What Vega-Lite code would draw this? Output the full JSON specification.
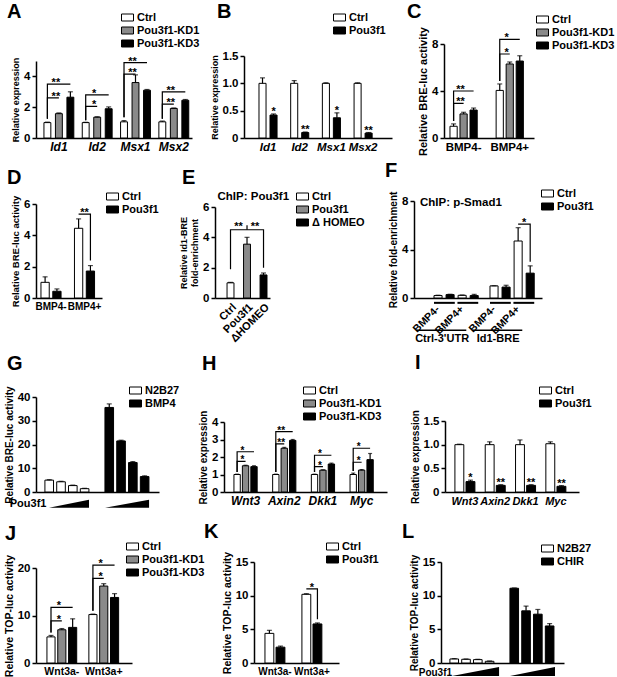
{
"$schema": "https://vega.github.io/schema/vega-lite/v6.json",
"padding": {"left": 4, "right": 0, "top": 2, "bottom": 0},
"background": "white",
"config": {
  "font": "Liberation Sans",
  "view": {"stroke": null},
  "axis": {"labelFont": "Liberation Sans", "titleFont": "Liberation Sans", "labelFontWeight": "bold", "titleFontWeight": "bold", "labelColor": "black", "titleColor": "black", "domainColor": "black", "tickColor": "black", "domainWidth": 1.5, "tickWidth": 1.5, "grid": false, "labelFontSize": 11.5},
  "axisY": {"tickSize": 4, "labelPadding": 2, "titlePadding": 3, "titleFontSize": 10},
  "axisX": {"ticks": false, "labelPadding": 3, "labelAngle": 0},
  "legend": {"labelFont": "Liberation Sans", "labelFontWeight": "bold", "labelFontSize": 11, "labelColor": "black", "rowPadding": 1, "padding": 0, "labelOffset": 4, "orient": "none"},
  "title": {"font": "Liberation Sans", "fontSize": 20, "fontWeight": "bold", "anchor": "start", "frame": "group", "color": "black"},
  "text": {"color": "black", "font": "Liberation Sans", "fontWeight": "bold"}
},
"datasets": {
  "A": [{"c":"Id1","g":"Ctrl","v":1.0,"hi":1.03},{"c":"Id1","g":"Pou3f1-KD1","v":1.58,"hi":1.63},{"c":"Id1","g":"Pou3f1-KD3","v":2.65,"hi":3.0},
        {"c":"Id2","g":"Ctrl","v":1.0,"hi":1.02},{"c":"Id2","g":"Pou3f1-KD1","v":1.35,"hi":1.38},{"c":"Id2","g":"Pou3f1-KD3","v":1.9,"hi":2.02},
        {"c":"Msx1","g":"Ctrl","v":1.05,"hi":1.13},{"c":"Msx1","g":"Pou3f1-KD1","v":3.6,"hi":4.1},{"c":"Msx1","g":"Pou3f1-KD3","v":3.1,"hi":3.15},
        {"c":"Msx2","g":"Ctrl","v":1.05,"hi":1.1},{"c":"Msx2","g":"Pou3f1-KD1","v":1.92,"hi":1.95},{"c":"Msx2","g":"Pou3f1-KD3","v":2.45,"hi":2.5}],
  "A_br": [{"id":"a1","c":"Id1","g":"Ctrl","y":1.25,"o":1},{"id":"a1","c":"Id1","g":"Ctrl","y":2.6,"o":2},{"id":"a1","c":"Id1","g":"Pou3f1-KD1","y":2.6,"o":3},
           {"id":"a2","c":"Id1","g":"Ctrl","y":1.25,"o":1},{"id":"a2","c":"Id1","g":"Ctrl","y":3.5,"o":2},{"id":"a2","c":"Id1","g":"Pou3f1-KD3","y":3.5,"o":3},
           {"id":"a3","c":"Id2","g":"Ctrl","y":1.15,"o":1},{"id":"a3","c":"Id2","g":"Ctrl","y":2.05,"o":2},{"id":"a3","c":"Id2","g":"Pou3f1-KD1","y":2.05,"o":3},
           {"id":"a4","c":"Id2","g":"Ctrl","y":1.15,"o":1},{"id":"a4","c":"Id2","g":"Ctrl","y":2.8,"o":2},{"id":"a4","c":"Id2","g":"Pou3f1-KD3","y":2.8,"o":3},
           {"id":"a5","c":"Msx1","g":"Ctrl","y":1.35,"o":1},{"id":"a5","c":"Msx1","g":"Ctrl","y":4.15,"o":2},{"id":"a5","c":"Msx1","g":"Pou3f1-KD1","y":4.15,"o":3},
           {"id":"a6","c":"Msx1","g":"Ctrl","y":1.35,"o":1},{"id":"a6","c":"Msx1","g":"Ctrl","y":4.9,"o":2},{"id":"a6","c":"Msx1","g":"Pou3f1-KD3","y":4.9,"o":3},
           {"id":"a7","c":"Msx2","g":"Ctrl","y":1.25,"o":1},{"id":"a7","c":"Msx2","g":"Ctrl","y":2.2,"o":2},{"id":"a7","c":"Msx2","g":"Pou3f1-KD1","y":2.2,"o":3},
           {"id":"a8","c":"Msx2","g":"Ctrl","y":1.25,"o":1},{"id":"a8","c":"Msx2","g":"Ctrl","y":3.0,"o":2},{"id":"a8","c":"Msx2","g":"Pou3f1-KD3","y":3.0,"o":3}],
  "A_st": [{"c":"Id1","g":"Pou3f1-KD1","y":2.6,"t":"**"},{"c":"Id1","g":"Pou3f1-KD1","y":3.5,"t":"**"},{"c":"Id2","g":"Pou3f1-KD1","y":2.05,"t":"*"},{"c":"Id2","g":"Pou3f1-KD1","y":2.8,"t":"*"},
           {"c":"Msx1","g":"Pou3f1-KD1","y":4.15,"t":"**"},{"c":"Msx1","g":"Pou3f1-KD1","y":4.9,"t":"**"},{"c":"Msx2","g":"Pou3f1-KD1","y":2.2,"t":"**"},{"c":"Msx2","g":"Pou3f1-KD1","y":3.0,"t":"**"}],
  "B": [{"c":"Id1","g":"Ctrl","v":1.0,"hi":1.1},{"c":"Id1","g":"Pou3f1","v":0.42,"hi":0.44},
        {"c":"Id2","g":"Ctrl","v":1.0,"hi":1.05},{"c":"Id2","g":"Pou3f1","v":0.1,"hi":0.11},
        {"c":"Msx1","g":"Ctrl","v":1.0,"hi":1.01},{"c":"Msx1","g":"Pou3f1","v":0.37,"hi":0.46},
        {"c":"Msx2","g":"Ctrl","v":1.0,"hi":1.01},{"c":"Msx2","g":"Pou3f1","v":0.09,"hi":0.1}],
  "B_st": [{"c":"Id1","g":"Pou3f1","y":0.44,"t":"*"},{"c":"Id2","g":"Pou3f1","y":0.11,"t":"**"},{"c":"Msx1","g":"Pou3f1","y":0.46,"t":"*"},{"c":"Msx2","g":"Pou3f1","y":0.1,"t":"**"}],
  "C": [{"c":"BMP4-","g":"Ctrl","v":1.0,"hi":1.2},{"c":"BMP4-","g":"Pou3f1-KD1","v":2.05,"hi":2.19},{"c":"BMP4-","g":"Pou3f1-KD3","v":2.38,"hi":2.55},
        {"c":"BMP4+","g":"Ctrl","v":4.05,"hi":4.6},{"c":"BMP4+","g":"Pou3f1-KD1","v":6.3,"hi":6.47},{"c":"BMP4+","g":"Pou3f1-KD3","v":6.55,"hi":7.0}],
  "C_br": [{"id":"c1","c":"BMP4-","g":"Ctrl","y":1.45,"o":1},{"id":"c1","c":"BMP4-","g":"Ctrl","y":2.95,"o":2},{"id":"c1","c":"BMP4-","g":"Pou3f1-KD1","y":2.95,"o":3},
           {"id":"c2","c":"BMP4-","g":"Ctrl","y":1.45,"o":1},{"id":"c2","c":"BMP4-","g":"Ctrl","y":4.0,"o":2},{"id":"c2","c":"BMP4-","g":"Pou3f1-KD3","y":4.0,"o":3},
           {"id":"c3","c":"BMP4+","g":"Ctrl","y":4.85,"o":1},{"id":"c3","c":"BMP4+","g":"Ctrl","y":7.15,"o":2},{"id":"c3","c":"BMP4+","g":"Pou3f1-KD1","y":7.15,"o":3},
           {"id":"c4","c":"BMP4+","g":"Ctrl","y":4.85,"o":1},{"id":"c4","c":"BMP4+","g":"Ctrl","y":8.4,"o":2},{"id":"c4","c":"BMP4+","g":"Pou3f1-KD3","y":8.4,"o":3}],
  "C_st": [{"c":"BMP4-","g":"Pou3f1-KD1","y":2.95,"t":"**"},{"c":"BMP4-","g":"Pou3f1-KD1","y":4.0,"t":"**"},{"c":"BMP4+","g":"Pou3f1-KD1","y":7.15,"t":"*"},{"c":"BMP4+","g":"Pou3f1-KD1","y":8.4,"t":"*"}],
  "D": [{"c":"BMP4-","g":"Ctrl","v":1.0,"hi":1.35},{"c":"BMP4-","g":"Pou3f1","v":0.43,"hi":0.58},
        {"c":"BMP4+","g":"Ctrl","v":4.45,"hi":5.05},{"c":"BMP4+","g":"Pou3f1","v":1.72,"hi":2.07}],
  "D_br": [{"id":"d1","c":"BMP4+","g":"Ctrl","y":5.35,"o":1},{"id":"d1","c":"BMP4+","g":"Pou3f1","y":5.35,"o":2},{"id":"d1","c":"BMP4+","g":"Pou3f1","y":2.4,"o":3}],
  "D_st": [{"c":"BMP4+","g":"Ctrl","y":5.35,"t":"**"}],
  "E": [{"c":"Ctrl","v":1.0,"hi":1.03},{"c":"Pou3f1","v":3.55,"hi":4.0},{"c":"ΔHOMEO","v":1.52,"hi":1.65}],
  "E_br": [{"id":"e1","c":"Ctrl","y":1.9,"o":1},{"id":"e1","c":"Ctrl","y":4.5,"o":2},{"id":"e1","c":"ΔHOMEO","y":4.5,"o":3},{"id":"e1","c":"ΔHOMEO","y":2.0,"o":4},
           {"id":"e2","c":"Pou3f1","y":4.5,"o":1},{"id":"e2","c":"Pou3f1","y":4.8,"o":2}],
  "E_st": [{"c":"Ctrl","y":4.55,"t":"**"},{"c":"Pou3f1","y":4.55,"t":"**"}],
  "E_lab": [{"c":"Ctrl","y":6.65,"t":"ChIP: Pou3f1"}],
  "F": [{"c":"Ctrl-3'UTR","s":"BMP4-|Ctrl","g":"Ctrl","v":0.2,"hi":0.23},{"c":"Ctrl-3'UTR","s":"BMP4-|Pou3f1","g":"Pou3f1","v":0.28,"hi":0.31},
        {"c":"Ctrl-3'UTR","s":"BMP4+|Ctrl","g":"Ctrl","v":0.22,"hi":0.25},{"c":"Ctrl-3'UTR","s":"BMP4+|Pou3f1","g":"Pou3f1","v":0.2,"hi":0.3},
        {"c":"Id1-BRE","s":"BMP4-|Ctrl","g":"Ctrl","v":1.0,"hi":1.01},{"c":"Id1-BRE","s":"BMP4-|Pou3f1","g":"Pou3f1","v":0.9,"hi":1.05},
        {"c":"Id1-BRE","s":"BMP4+|Ctrl","g":"Ctrl","v":4.7,"hi":5.8},{"c":"Id1-BRE","s":"BMP4+|Pou3f1","g":"Pou3f1","v":2.05,"hi":2.65}],
  "F_br": [{"id":"f1","c":"Id1-BRE","s":"BMP4+|Ctrl","y":6.1,"o":1},{"id":"f1","c":"Id1-BRE","s":"BMP4+|Pou3f1","y":6.1,"o":2},{"id":"f1","c":"Id1-BRE","s":"BMP4+|Pou3f1","y":3.0,"o":3}],
  "F_st": [{"c":"Id1-BRE","s":"BMP4+|Ctrl","y":6.1,"t":"*"}],
  "F_lab": [{"c":"Ctrl-3'UTR","s":"BMP4-|Ctrl","y":7.8,"t":"ChIP: p-Smad1"}],
  "F_tl": [{"c":"Ctrl-3'UTR","s":"BMP4-|Ctrl","t":"BMP4-"},{"c":"Ctrl-3'UTR","s":"BMP4+|Ctrl","t":"BMP4+"},{"c":"Id1-BRE","s":"BMP4-|Ctrl","t":"BMP4-"},{"c":"Id1-BRE","s":"BMP4+|Ctrl","t":"BMP4+"}],
  "F_tu": [{"c":"Ctrl-3'UTR","p":"-"},{"c":"Ctrl-3'UTR","p":"+"},{"c":"Id1-BRE","p":"-"},{"c":"Id1-BRE","p":"+"}],
  "F_ru": [{"c":"Ctrl-3'UTR"},{"c":"Id1-BRE"}],
  "G": [{"c":"N2B27","d":"1","v":5.0,"hi":5.2},{"c":"N2B27","d":"2","v":4.3,"hi":4.5},{"c":"N2B27","d":"3","v":2.7,"hi":2.9},{"c":"N2B27","d":"4","v":1.4,"hi":1.55},
        {"c":"BMP4","d":"1","v":35.6,"hi":37.1},{"c":"BMP4","d":"2","v":21.5,"hi":21.8},{"c":"BMP4","d":"3","v":12.4,"hi":12.8},{"c":"BMP4","d":"4","v":6.5,"hi":6.8}],
  "G_w": [{"w":"a","p":0.106,"t":-6.6,"b":-6.6},{"w":"a","p":0.431,"t":-3.3,"b":-6.6},{"w":"b","p":0.561,"t":-6.6,"b":-6.6},{"w":"b","p":0.919,"t":-3.3,"b":-6.6}],
  "G_wl": [{"p":0.085,"t":-5.2,"s":"Pou3f1"}],
  "H": [{"c":"Wnt3","g":"Ctrl","v":1.0,"hi":1.02},{"c":"Wnt3","g":"Pou3f1-KD1","v":1.5,"hi":1.53},{"c":"Wnt3","g":"Pou3f1-KD3","v":1.45,"hi":1.5},
        {"c":"Axin2","g":"Ctrl","v":1.0,"hi":1.02},{"c":"Axin2","g":"Pou3f1-KD1","v":2.5,"hi":2.55},{"c":"Axin2","g":"Pou3f1-KD3","v":2.95,"hi":3.0},
        {"c":"Dkk1","g":"Ctrl","v":1.0,"hi":1.02},{"c":"Dkk1","g":"Pou3f1-KD1","v":1.25,"hi":1.27},{"c":"Dkk1","g":"Pou3f1-KD3","v":1.6,"hi":1.65},
        {"c":"Myc","g":"Ctrl","v":1.0,"hi":1.08},{"c":"Myc","g":"Pou3f1-KD1","v":1.25,"hi":1.28},{"c":"Myc","g":"Pou3f1-KD3","v":1.85,"hi":2.2}],
  "H_br": [{"id":"h1","c":"Wnt3","g":"Ctrl","y":1.15,"o":1},{"id":"h1","c":"Wnt3","g":"Ctrl","y":1.75,"o":2},{"id":"h1","c":"Wnt3","g":"Pou3f1-KD1","y":1.75,"o":3},
           {"id":"h2","c":"Wnt3","g":"Ctrl","y":1.15,"o":1},{"id":"h2","c":"Wnt3","g":"Ctrl","y":2.3,"o":2},{"id":"h2","c":"Wnt3","g":"Pou3f1-KD3","y":2.3,"o":3},
           {"id":"h3","c":"Axin2","g":"Ctrl","y":1.15,"o":1},{"id":"h3","c":"Axin2","g":"Ctrl","y":2.75,"o":2},{"id":"h3","c":"Axin2","g":"Pou3f1-KD1","y":2.75,"o":3},
           {"id":"h4","c":"Axin2","g":"Ctrl","y":1.15,"o":1},{"id":"h4","c":"Axin2","g":"Ctrl","y":3.45,"o":2},{"id":"h4","c":"Axin2","g":"Pou3f1-KD3","y":3.45,"o":3},
           {"id":"h5","c":"Dkk1","g":"Ctrl","y":1.15,"o":1},{"id":"h5","c":"Dkk1","g":"Ctrl","y":1.45,"o":2},{"id":"h5","c":"Dkk1","g":"Pou3f1-KD1","y":1.45,"o":3},
           {"id":"h6","c":"Dkk1","g":"Ctrl","y":1.15,"o":1},{"id":"h6","c":"Dkk1","g":"Ctrl","y":2.1,"o":2},{"id":"h6","c":"Dkk1","g":"Pou3f1-KD3","y":2.1,"o":3},
           {"id":"h7","c":"Myc","g":"Ctrl","y":1.2,"o":1},{"id":"h7","c":"Myc","g":"Ctrl","y":1.7,"o":2},{"id":"h7","c":"Myc","g":"Pou3f1-KD1","y":1.7,"o":3},
           {"id":"h8","c":"Myc","g":"Ctrl","y":1.2,"o":1},{"id":"h8","c":"Myc","g":"Ctrl","y":2.5,"o":2},{"id":"h8","c":"Myc","g":"Pou3f1-KD3","y":2.5,"o":3}],
  "H_st": [{"c":"Wnt3","g":"Pou3f1-KD1","y":1.75,"t":"*"},{"c":"Wnt3","g":"Pou3f1-KD1","y":2.3,"t":"*"},{"c":"Axin2","g":"Pou3f1-KD1","y":2.75,"t":"**"},{"c":"Axin2","g":"Pou3f1-KD1","y":3.45,"t":"**"},
           {"c":"Dkk1","g":"Pou3f1-KD1","y":1.45,"t":"*"},{"c":"Dkk1","g":"Pou3f1-KD1","y":2.1,"t":"*"},{"c":"Myc","g":"Pou3f1-KD1","y":1.7,"t":"*"},{"c":"Myc","g":"Pou3f1-KD1","y":2.5,"t":"*"}],
  "I": [{"c":"Wnt3","g":"Ctrl","v":1.0,"hi":1.01},{"c":"Wnt3","g":"Pou3f1","v":0.22,"hi":0.25},
        {"c":"Axin2","g":"Ctrl","v":1.0,"hi":1.06},{"c":"Axin2","g":"Pou3f1","v":0.14,"hi":0.155},
        {"c":"Dkk1","g":"Ctrl","v":1.0,"hi":1.1},{"c":"Dkk1","g":"Pou3f1","v":0.14,"hi":0.155},
        {"c":"Myc","g":"Ctrl","v":1.02,"hi":1.06},{"c":"Myc","g":"Pou3f1","v":0.12,"hi":0.135}],
  "I_st": [{"c":"Wnt3","g":"Pou3f1","y":0.25,"t":"*"},{"c":"Axin2","g":"Pou3f1","y":0.155,"t":"**"},{"c":"Dkk1","g":"Pou3f1","y":0.155,"t":"**"},{"c":"Myc","g":"Pou3f1","y":0.135,"t":"**"}],
  "J": [{"c":"Wnt3a-","g":"Ctrl","v":5.5,"hi":5.8},{"c":"Wnt3a-","g":"Pou3f1-KD1","v":7.0,"hi":7.25},{"c":"Wnt3a-","g":"Pou3f1-KD3","v":7.5,"hi":9.3},
        {"c":"Wnt3a+","g":"Ctrl","v":10.2,"hi":10.3},{"c":"Wnt3a+","g":"Pou3f1-KD1","v":16.2,"hi":16.7},{"c":"Wnt3a+","g":"Pou3f1-KD3","v":13.8,"hi":14.6}],
  "J_br": [{"id":"j1","c":"Wnt3a-","g":"Ctrl","y":6.4,"o":1},{"id":"j1","c":"Wnt3a-","g":"Ctrl","y":8.85,"o":2},{"id":"j1","c":"Wnt3a-","g":"Pou3f1-KD1","y":8.85,"o":3},
           {"id":"j2","c":"Wnt3a-","g":"Ctrl","y":6.4,"o":1},{"id":"j2","c":"Wnt3a-","g":"Ctrl","y":11.7,"o":2},{"id":"j2","c":"Wnt3a-","g":"Pou3f1-KD3","y":11.7,"o":3},
           {"id":"j3","c":"Wnt3a+","g":"Ctrl","y":11.0,"o":1},{"id":"j3","c":"Wnt3a+","g":"Ctrl","y":17.8,"o":2},{"id":"j3","c":"Wnt3a+","g":"Pou3f1-KD1","y":17.8,"o":3},
           {"id":"j4","c":"Wnt3a+","g":"Ctrl","y":11.0,"o":1},{"id":"j4","c":"Wnt3a+","g":"Ctrl","y":20.6,"o":2},{"id":"j4","c":"Wnt3a+","g":"Pou3f1-KD3","y":20.6,"o":3}],
  "J_st": [{"c":"Wnt3a-","g":"Pou3f1-KD1","y":8.85,"t":"*"},{"c":"Wnt3a-","g":"Pou3f1-KD1","y":11.7,"t":"*"},{"c":"Wnt3a+","g":"Pou3f1-KD1","y":17.8,"t":"*"},{"c":"Wnt3a+","g":"Pou3f1-KD1","y":20.6,"t":"*"}],
  "K": [{"c":"Wnt3a-","g":"Ctrl","v":4.4,"hi":4.85},{"c":"Wnt3a-","g":"Pou3f1","v":2.35,"hi":2.5},
        {"c":"Wnt3a+","g":"Ctrl","v":10.2,"hi":10.3},{"c":"Wnt3a+","g":"Pou3f1","v":5.8,"hi":5.95}],
  "K_br": [{"id":"k1","c":"Wnt3a+","g":"Ctrl","y":11.0,"o":1},{"id":"k1","c":"Wnt3a+","g":"Pou3f1","y":11.0,"o":2},{"id":"k1","c":"Wnt3a+","g":"Pou3f1","y":6.5,"o":3}],
  "K_st": [{"c":"Wnt3a+","g":"Ctrl","y":11.0,"t":"*"}],
  "L": [{"c":"N2B27","d":"1","v":0.6,"hi":0.65},{"c":"N2B27","d":"2","v":0.55,"hi":0.6},{"c":"N2B27","d":"3","v":0.5,"hi":0.55},{"c":"N2B27","d":"4","v":0.25,"hi":0.3},
        {"c":"CHIR","d":"1","v":11.1,"hi":11.15},{"c":"CHIR","d":"2","v":7.75,"hi":8.45},{"c":"CHIR","d":"3","v":7.25,"hi":7.95},{"c":"CHIR","d":"4","v":5.5,"hi":5.85}],
  "L_w": [{"w":"a","p":0.089,"t":-1.93,"b":-1.93},{"w":"a","p":0.472,"t":-0.6,"b":-1.93},{"w":"b","p":0.561,"t":-1.93,"b":-1.93},{"w":"b","p":0.927,"t":-0.6,"b":-1.93}],
  "L_wl": [{"p":0.09,"t":-1.45,"s":"Pou3f1"}]
},
"columns": 3,
"bounds": "flush",
"spacing": {"row": 28, "column": 10},
"resolve": {"scale": {"fill": "independent", "xOffset": "independent"}, "legend": {"fill": "independent"}},
"concat": [
  {
   "title": {"text": "A", "offset": -16, "dx": -29},
   "width": 169, "height": 132,
   "data": {"name": "A"},
   "layer": [
    {"mark": {"type": "bar", "stroke": "black", "strokeWidth": 1},
     "encoding": {
      "x": {"field": "c", "type": "nominal", "scale": {"domain": ["Id1","Id2","Msx1","Msx2"], "range": [0,156], "paddingInner": 0.22, "paddingOuter": 0.146, "align": 0.71}, "axis": {"title": null, "labelFontStyle": "italic", "labelFontSize": 12}},
      "xOffset": {"field": "g", "type": "nominal", "scale": {"domain": ["Ctrl","Pou3f1-KD1","Pou3f1-KD3"], "paddingInner": 0.4}},
      "y": {"field": "v", "type": "quantitative", "scale": {"domain": [0,5], "range": [132,55], "nice": false}, "axis": {"title": "Relative expression", "values": [0,1,2,3,4,5], "titleFontSize": 9}},
      "fill": {"field": "g", "type": "nominal", "scale": {"domain": ["Ctrl","Pou3f1-KD1","Pou3f1-KD3"], "range": ["white","#8a8a8a","black"]}, "legend": {"title": null, "orient": "none", "legendX": 86, "legendY": 6, "symbolType": "M-1.2,-0.7H1.2V0.7H-1.2Z", "symbolSize": 100, "symbolStrokeColor": "black", "symbolStrokeWidth": 1}}
     }},
    {"mark": {"type": "rule", "color": "black", "strokeWidth": 1.2}, "encoding": {"x": {"field": "c", "type": "nominal"}, "xOffset": {"field": "g", "type": "nominal"}, "y": {"field": "v", "type": "quantitative"}, "y2": {"field": "hi"}}},
    {"mark": {"type": "tick", "color": "black", "thickness": 1.2, "size": 5}, "encoding": {"x": {"field": "c", "type": "nominal"}, "xOffset": {"field": "g", "type": "nominal"}, "y": {"field": "hi", "type": "quantitative"}}},
    {"data": {"name": "A_br"}, "mark": {"type": "line", "color": "black", "strokeWidth": 1.2}, "encoding": {"x": {"field": "c", "type": "nominal"}, "xOffset": {"field": "g", "type": "nominal"}, "y": {"field": "y", "type": "quantitative"}, "detail": {"field": "id"}, "order": {"field": "o", "type": "quantitative"}}},
    {"data": {"name": "A_st"}, "mark": {"type": "text", "fontSize": 11, "baseline": "alphabetic", "dy": 2, "dx": -3}, "encoding": {"x": {"field": "c", "type": "nominal"}, "xOffset": {"field": "g", "type": "nominal"}, "y": {"field": "y", "type": "quantitative"}, "text": {"field": "t"}}}
   ]
  },
  {
   "title": {"text": "B", "offset": -16, "dx": 2},
   "width": 189, "height": 132,
   "data": {"name": "B"},
   "layer": [
    {"mark": {"type": "bar", "stroke": "black", "strokeWidth": 1},
     "encoding": {
      "x": {"field": "c", "type": "nominal", "scale": {"domain": ["Id1","Id2","Msx1","Msx2"], "range": [29,177], "paddingInner": 0.43, "paddingOuter": 0.55, "align": 0.43}, "axis": {"title": null, "labelFontStyle": "italic", "labelFontSize": 11.5}},
      "xOffset": {"field": "g", "type": "nominal", "scale": {"domain": ["Ctrl","Pou3f1"], "paddingInner": 0.36}},
      "y": {"field": "v", "type": "quantitative", "scale": {"domain": [0,1.5], "range": [132,50], "nice": false}, "axis": {"title": "Relative expression", "offset": -29, "values": [0,0.5,1,1.5], "labelExpr": "datum.value == 0 ? '0' : format(datum.value, '.1f')", "titleFontSize": 9}},
      "fill": {"field": "g", "type": "nominal", "scale": {"domain": ["Ctrl","Pou3f1"], "range": ["white","black"]}, "legend": {"title": null, "orient": "none", "legendX": 119, "legendY": 6, "symbolType": "M-1.2,-0.7H1.2V0.7H-1.2Z", "symbolSize": 100, "symbolStrokeColor": "black", "symbolStrokeWidth": 1}}
     }},
    {"mark": {"type": "rule", "color": "black", "strokeWidth": 1.2}, "encoding": {"x": {"field": "c", "type": "nominal"}, "xOffset": {"field": "g", "type": "nominal"}, "y": {"field": "v", "type": "quantitative"}, "y2": {"field": "hi"}}},
    {"mark": {"type": "tick", "color": "black", "thickness": 1.2, "size": 5}, "encoding": {"x": {"field": "c", "type": "nominal"}, "xOffset": {"field": "g", "type": "nominal"}, "y": {"field": "hi", "type": "quantitative"}}},
    {"data": {"name": "B_st"}, "mark": {"type": "text", "fontSize": 11, "baseline": "alphabetic", "dy": 1}, "encoding": {"x": {"field": "c", "type": "nominal"}, "xOffset": {"field": "g", "type": "nominal"}, "y": {"field": "y", "type": "quantitative"}, "text": {"field": "t"}}}
   ]
  },
  {
   "title": {"text": "C", "offset": -16, "dx": -7},
   "width": 134, "height": 132,
   "data": {"name": "C"},
   "layer": [
    {"mark": {"type": "bar", "stroke": "black", "strokeWidth": 1},
     "encoding": {
      "x": {"field": "c", "type": "nominal", "scale": {"domain": ["BMP4-","BMP4+"], "range": [30,120], "paddingInner": 0.41, "paddingOuter": 0.18, "align": 0.36}, "axis": {"title": null, "labelFontSize": 11.5}},
      "xOffset": {"field": "g", "type": "nominal", "scale": {"domain": ["Ctrl","Pou3f1-KD1","Pou3f1-KD3"], "paddingInner": 0.28}},
      "y": {"field": "v", "type": "quantitative", "scale": {"domain": [0,8], "range": [132,38], "nice": false}, "axis": {"title": "Relative BRE-luc activity", "offset": -30, "values": [0,2,4,6,8], "titleFontSize": 11}},
      "fill": {"field": "g", "type": "nominal", "scale": {"domain": ["Ctrl","Pou3f1-KD1","Pou3f1-KD3"], "range": ["white","#8a8a8a","black"]}, "legend": {"title": null, "orient": "none", "legendX": 123, "legendY": 8, "symbolType": "M-1.2,-0.7H1.2V0.7H-1.2Z", "symbolSize": 100, "symbolStrokeColor": "black", "symbolStrokeWidth": 1}}
     }},
    {"mark": {"type": "rule", "color": "black", "strokeWidth": 1.2}, "encoding": {"x": {"field": "c", "type": "nominal"}, "xOffset": {"field": "g", "type": "nominal"}, "y": {"field": "v", "type": "quantitative"}, "y2": {"field": "hi"}}},
    {"mark": {"type": "tick", "color": "black", "thickness": 1.2, "size": 5}, "encoding": {"x": {"field": "c", "type": "nominal"}, "xOffset": {"field": "g", "type": "nominal"}, "y": {"field": "hi", "type": "quantitative"}}},
    {"data": {"name": "C_br"}, "mark": {"type": "line", "color": "black", "strokeWidth": 1.2}, "encoding": {"x": {"field": "c", "type": "nominal"}, "xOffset": {"field": "g", "type": "nominal"}, "y": {"field": "y", "type": "quantitative"}, "detail": {"field": "id"}, "order": {"field": "o", "type": "quantitative"}}},
    {"data": {"name": "C_st"}, "mark": {"type": "text", "fontSize": 11, "baseline": "alphabetic", "dy": 2, "dx": -3}, "encoding": {"x": {"field": "c", "type": "nominal"}, "xOffset": {"field": "g", "type": "nominal"}, "y": {"field": "y", "type": "quantitative"}, "text": {"field": "t"}}}
   ]
  },
  {
   "title": {"text": "D", "offset": -22, "dx": -29},
   "width": 169, "height": 132,
   "data": {"name": "D"},
   "layer": [
    {"mark": {"type": "bar", "stroke": "black", "strokeWidth": 1},
     "encoding": {
      "x": {"field": "c", "type": "nominal", "scale": {"domain": ["BMP4-","BMP4+"], "range": [0,66], "paddingInner": 0.4, "paddingOuter": 0.185, "align": 0.4}, "axis": {"title": null, "labelFontSize": 10}},
      "xOffset": {"field": "g", "type": "nominal", "scale": {"domain": ["Ctrl","Pou3f1"], "paddingInner": 0.3}},
      "y": {"field": "v", "type": "quantitative", "scale": {"domain": [0,6], "range": [132,38], "nice": false}, "axis": {"title": "Relative BRE-luc activity", "values": [0,2,4,6], "titleFontSize": 9.5}},
      "fill": {"field": "g", "type": "nominal", "scale": {"domain": ["Ctrl","Pou3f1"], "range": ["white","black"]}, "legend": {"title": null, "orient": "none", "legendX": 71, "legendY": 25, "symbolType": "M-1.2,-0.7H1.2V0.7H-1.2Z", "symbolSize": 100, "symbolStrokeColor": "black", "symbolStrokeWidth": 1}}
     }},
    {"mark": {"type": "rule", "color": "black", "strokeWidth": 1.2}, "encoding": {"x": {"field": "c", "type": "nominal"}, "xOffset": {"field": "g", "type": "nominal"}, "y": {"field": "v", "type": "quantitative"}, "y2": {"field": "hi"}}},
    {"mark": {"type": "tick", "color": "black", "thickness": 1.2, "size": 5}, "encoding": {"x": {"field": "c", "type": "nominal"}, "xOffset": {"field": "g", "type": "nominal"}, "y": {"field": "hi", "type": "quantitative"}}},
    {"data": {"name": "D_br"}, "mark": {"type": "line", "color": "black", "strokeWidth": 1.2}, "encoding": {"x": {"field": "c", "type": "nominal"}, "xOffset": {"field": "g", "type": "nominal"}, "y": {"field": "y", "type": "quantitative"}, "detail": {"field": "id"}, "order": {"field": "o", "type": "quantitative"}}},
    {"data": {"name": "D_st"}, "mark": {"type": "text", "fontSize": 11, "baseline": "alphabetic", "dy": 2, "dx": 6}, "encoding": {"x": {"field": "c", "type": "nominal"}, "xOffset": {"field": "g", "type": "nominal"}, "y": {"field": "y", "type": "quantitative"}, "text": {"field": "t"}}}
   ]
  },
  {
   "title": {"text": "E", "offset": -22, "dx": -33},
   "width": 189, "height": 132,
   "data": {"name": "E"},
   "layer": [
    {"mark": {"type": "bar", "stroke": "black", "strokeWidth": 1},
     "encoding": {
      "x": {"field": "c", "type": "nominal", "scale": {"domain": ["Ctrl","Pou3f1","ΔHOMEO"], "range": [0,55], "paddingInner": 0.58, "paddingOuter": 0.456, "align": 0.8}, "axis": {"title": null, "labelAngle": -45, "labelFontSize": 11}},
      "y": {"field": "v", "type": "quantitative", "scale": {"domain": [0,6], "range": [132,41], "nice": false}, "axis": {"title": ["Relative Id1-BRE","fold-enrichment"], "values": [0,2,4,6], "titleFontSize": 9}},
      "fill": {"field": "c", "type": "nominal", "scale": {"domain": ["Ctrl","Pou3f1","ΔHOMEO"], "range": ["white","#8a8a8a","black"]}, "legend": {"title": null, "orient": "none", "legendX": 82, "legendY": 25, "labelExpr": "datum.label == 'ΔHOMEO' ? 'Δ HOMEO' : datum.label", "symbolType": "M-1.2,-0.7H1.2V0.7H-1.2Z", "symbolSize": 100, "symbolStrokeColor": "black", "symbolStrokeWidth": 1}}
     }},
    {"mark": {"type": "rule", "color": "black", "strokeWidth": 1.2}, "encoding": {"x": {"field": "c", "type": "nominal"}, "y": {"field": "v", "type": "quantitative"}, "y2": {"field": "hi"}}},
    {"mark": {"type": "tick", "color": "black", "thickness": 1.2, "size": 5}, "encoding": {"x": {"field": "c", "type": "nominal"}, "y": {"field": "hi", "type": "quantitative"}}},
    {"data": {"name": "E_br"}, "mark": {"type": "line", "color": "black", "strokeWidth": 1.2}, "encoding": {"x": {"field": "c", "type": "nominal"}, "y": {"field": "y", "type": "quantitative"}, "detail": {"field": "id"}, "order": {"field": "o", "type": "quantitative"}}},
    {"data": {"name": "E_st"}, "mark": {"type": "text", "fontSize": 11, "baseline": "alphabetic", "dy": 1, "dx": 8}, "encoding": {"x": {"field": "c", "type": "nominal"}, "y": {"field": "y", "type": "quantitative"}, "text": {"field": "t"}}},
    {"data": {"name": "E_lab"}, "mark": {"type": "text", "fontSize": 11.5, "align": "left", "baseline": "middle", "dx": -13}, "encoding": {"x": {"field": "c", "type": "nominal"}, "y": {"field": "y", "type": "quantitative"}, "text": {"field": "t"}}}
   ]
  },
  {
   "title": {"text": "F", "offset": -15, "dx": -29},
   "width": 134, "height": 132,
   "data": {"name": "F"},
   "layer": [
    {"mark": {"type": "bar", "stroke": "black", "strokeWidth": 1},
     "encoding": {
      "x": {"field": "c", "type": "nominal", "scale": {"domain": ["Ctrl-3'UTR","Id1-BRE"], "range": [0,128], "paddingInner": 0.21, "paddingOuter": 0.248, "align": 0.72}, "axis": {"title": null, "labelFontSize": 11, "labelPadding": 34, "labelOffset": -14}},
      "xOffset": {"field": "s", "type": "nominal", "scale": {"domain": ["BMP4-|Ctrl","BMP4-|Pou3f1","BMP4+|Ctrl","BMP4+|Pou3f1"], "paddingInner": 0.33}},
      "y": {"field": "v", "type": "quantitative", "scale": {"domain": [0,8], "range": [132,35], "nice": false}, "axis": {"title": "Relative fold-enrichment", "values": [0,2,4,6,8], "titleFontSize": 10}},
      "fill": {"field": "g", "type": "nominal", "scale": {"domain": ["Ctrl","Pou3f1"], "range": ["white","black"]}, "legend": {"title": null, "orient": "none", "legendX": 128, "legendY": 22, "symbolType": "M-1.2,-0.7H1.2V0.7H-1.2Z", "symbolSize": 100, "symbolStrokeColor": "black", "symbolStrokeWidth": 1}}
     }},
    {"mark": {"type": "rule", "color": "black", "strokeWidth": 1.2}, "encoding": {"x": {"field": "c", "type": "nominal"}, "xOffset": {"field": "s", "type": "nominal"}, "y": {"field": "v", "type": "quantitative"}, "y2": {"field": "hi"}}},
    {"mark": {"type": "tick", "color": "black", "thickness": 1.2, "size": 5}, "encoding": {"x": {"field": "c", "type": "nominal"}, "xOffset": {"field": "s", "type": "nominal"}, "y": {"field": "hi", "type": "quantitative"}}},
    {"data": {"name": "F_br"}, "mark": {"type": "line", "color": "black", "strokeWidth": 1.2}, "encoding": {"x": {"field": "c", "type": "nominal"}, "xOffset": {"field": "s", "type": "nominal"}, "y": {"field": "y", "type": "quantitative"}, "detail": {"field": "id"}, "order": {"field": "o", "type": "quantitative"}}},
    {"data": {"name": "F_st"}, "mark": {"type": "text", "fontSize": 11, "baseline": "alphabetic", "dy": 2, "dx": 6}, "encoding": {"x": {"field": "c", "type": "nominal"}, "xOffset": {"field": "s", "type": "nominal"}, "y": {"field": "y", "type": "quantitative"}, "text": {"field": "t"}}},
    {"data": {"name": "F_lab"}, "mark": {"type": "text", "fontSize": 11.5, "align": "left", "baseline": "middle", "dx": -18}, "encoding": {"x": {"field": "c", "type": "nominal"}, "xOffset": {"field": "s", "type": "nominal"}, "y": {"field": "y", "type": "quantitative"}, "text": {"field": "t"}}},
    {"data": {"name": "F_tl"}, "mark": {"type": "text", "fontSize": 10.5, "align": "right", "baseline": "middle", "angle": 315}, "encoding": {"x": {"field": "c", "type": "nominal"}, "xOffset": {"field": "s", "type": "nominal"}, "y": {"datum": -0.8}, "text": {"field": "t"}}},
    {"data": {"name": "F_tu"}, "transform": [{"filter": "datum.p == '-'"}], "mark": {"type": "rule", "color": "black", "strokeWidth": 2}, "encoding": {"x": {"field": "c", "type": "nominal", "bandPosition": 0}, "x2": {"field": "c", "bandPosition": 0.47}, "y": {"datum": -0.4}}},
    {"data": {"name": "F_tu"}, "transform": [{"filter": "datum.p == '+'"}], "mark": {"type": "rule", "color": "black", "strokeWidth": 2}, "encoding": {"x": {"field": "c", "type": "nominal", "bandPosition": 0.53}, "x2": {"field": "c", "bandPosition": 1}, "y": {"datum": -0.4}}},
    {"data": {"name": "F_ru"}, "mark": {"type": "rule", "color": "black", "strokeWidth": 1.5}, "encoding": {"x": {"field": "c", "type": "nominal", "bandPosition": -0.4}, "x2": {"field": "c", "bandPosition": 0.73}, "y": {"datum": -2.65}}}
   ]
  },
  {
   "title": {"text": "G", "offset": -48, "dx": -29},
   "width": 169, "height": 166,
   "layer": [
    {"data": {"name": "G"},
     "layer": [
      {"mark": {"type": "bar", "stroke": "black", "strokeWidth": 1},
       "encoding": {
        "x": {"field": "c", "type": "nominal", "scale": {"domain": ["N2B27","BMP4"], "range": [0,123], "paddingInner": 0.267, "paddingOuter": 0.158, "align": 0.47}, "axis": {"title": null, "labels": false}},
        "xOffset": {"field": "d", "type": "nominal", "scale": {"domain": ["1","2","3","4"], "paddingInner": 0.27}},
        "y": {"field": "v", "type": "quantitative", "scale": {"domain": [0,40], "range": [166,71], "nice": false}, "axis": {"title": "Relative BRE-luc activity", "values": [0,10,20,30,40], "titleFontSize": 10}},
        "fill": {"field": "c", "type": "nominal", "scale": {"domain": ["N2B27","BMP4"], "range": ["white","black"]}, "legend": {"title": null, "orient": "none", "legendX": 94, "legendY": 59, "symbolType": "M-1.2,-0.7H1.2V0.7H-1.2Z", "symbolSize": 100, "symbolStrokeColor": "black", "symbolStrokeWidth": 1}}
       }},
      {"mark": {"type": "rule", "color": "black", "strokeWidth": 1.2}, "encoding": {"x": {"field": "c", "type": "nominal"}, "xOffset": {"field": "d", "type": "nominal"}, "y": {"field": "v", "type": "quantitative"}, "y2": {"field": "hi"}}},
      {"mark": {"type": "tick", "color": "black", "thickness": 1.2, "size": 5}, "encoding": {"x": {"field": "c", "type": "nominal"}, "xOffset": {"field": "d", "type": "nominal"}, "y": {"field": "hi", "type": "quantitative"}}}
     ]},
    {"layer": [
      {"data": {"name": "G_w"}, "mark": {"type": "area", "color": "black"}, "encoding": {"x": {"field": "p", "type": "quantitative", "scale": {"domain": [0,1], "range": [0,123]}, "axis": null}, "y": {"field": "t", "type": "quantitative"}, "y2": {"field": "b"}, "detail": {"field": "w"}}},
      {"data": {"name": "G_wl"}, "mark": {"type": "text", "fontSize": 11, "align": "right", "baseline": "middle"}, "encoding": {"x": {"field": "p", "type": "quantitative"}, "y": {"field": "t", "type": "quantitative"}, "text": {"field": "s"}}}
    ]}
   ],
   "resolve": {"scale": {"x": "independent"}}
  },
  {
   "title": {"text": "H", "offset": -48, "dx": -13},
   "width": 189, "height": 166,
   "data": {"name": "H"},
   "layer": [
    {"mark": {"type": "bar", "stroke": "black", "strokeWidth": 1},
     "encoding": {
      "x": {"field": "c", "type": "nominal", "scale": {"domain": ["Wnt3","Axin2","Dkk1","Myc"], "range": [9,172], "paddingInner": 0.4, "paddingOuter": 0.306, "align": 0.42}, "axis": {"title": null, "labelFontStyle": "italic", "labelFontSize": 12}},
      "xOffset": {"field": "g", "type": "nominal", "scale": {"domain": ["Ctrl","Pou3f1-KD1","Pou3f1-KD3"], "paddingInner": 0.25}},
      "y": {"field": "v", "type": "quantitative", "scale": {"domain": [0,4], "range": [166,96], "nice": false}, "axis": {"title": "Relative expression", "offset": -9, "values": [0,1,2,3,4], "titleFontSize": 10}},
      "fill": {"field": "g", "type": "nominal", "scale": {"domain": ["Ctrl","Pou3f1-KD1","Pou3f1-KD3"], "range": ["white","#8a8a8a","black"]}, "legend": {"title": null, "orient": "none", "legendX": 89, "legendY": 59, "symbolType": "M-1.2,-0.7H1.2V0.7H-1.2Z", "symbolSize": 100, "symbolStrokeColor": "black", "symbolStrokeWidth": 1}}
     }},
    {"mark": {"type": "rule", "color": "black", "strokeWidth": 1.2}, "encoding": {"x": {"field": "c", "type": "nominal"}, "xOffset": {"field": "g", "type": "nominal"}, "y": {"field": "v", "type": "quantitative"}, "y2": {"field": "hi"}}},
    {"mark": {"type": "tick", "color": "black", "thickness": 1.2, "size": 4}, "encoding": {"x": {"field": "c", "type": "nominal"}, "xOffset": {"field": "g", "type": "nominal"}, "y": {"field": "hi", "type": "quantitative"}}},
    {"data": {"name": "H_br"}, "mark": {"type": "line", "color": "black", "strokeWidth": 1.2}, "encoding": {"x": {"field": "c", "type": "nominal"}, "xOffset": {"field": "g", "type": "nominal"}, "y": {"field": "y", "type": "quantitative"}, "detail": {"field": "id"}, "order": {"field": "o", "type": "quantitative"}}},
    {"data": {"name": "H_st"}, "mark": {"type": "text", "fontSize": 10, "baseline": "alphabetic", "dy": 2, "dx": -3}, "encoding": {"x": {"field": "c", "type": "nominal"}, "xOffset": {"field": "g", "type": "nominal"}, "y": {"field": "y", "type": "quantitative"}, "text": {"field": "t"}}}
   ]
  },
  {
   "title": {"text": "I", "offset": -47, "dx": 1},
   "width": 134, "height": 166,
   "data": {"name": "I"},
   "layer": [
    {"mark": {"type": "bar", "stroke": "black", "strokeWidth": 1},
     "encoding": {
      "x": {"field": "c", "type": "nominal", "scale": {"domain": ["Wnt3","Axin2","Dkk1","Myc"], "range": [31,165], "paddingInner": 0.34, "paddingOuter": 0.38, "align": 0.43}, "axis": {"title": null, "labelFontStyle": "italic", "labelFontSize": 11}},
      "xOffset": {"field": "g", "type": "nominal", "scale": {"domain": ["Ctrl","Pou3f1"], "paddingInner": 0.2}},
      "y": {"field": "v", "type": "quantitative", "scale": {"domain": [0,1.5], "range": [166,95], "nice": false}, "axis": {"title": "Relative expression", "offset": -31, "values": [0,0.5,1,1.5], "labelExpr": "datum.value == 0 ? '0' : format(datum.value, '.1f')", "titleFontSize": 10}},
      "fill": {"field": "g", "type": "nominal", "scale": {"domain": ["Ctrl","Pou3f1"], "range": ["white","black"]}, "legend": {"title": null, "orient": "none", "legendX": 126, "legendY": 59, "symbolType": "M-1.2,-0.7H1.2V0.7H-1.2Z", "symbolSize": 100, "symbolStrokeColor": "black", "symbolStrokeWidth": 1}}
     }},
    {"mark": {"type": "rule", "color": "black", "strokeWidth": 1.2}, "encoding": {"x": {"field": "c", "type": "nominal"}, "xOffset": {"field": "g", "type": "nominal"}, "y": {"field": "v", "type": "quantitative"}, "y2": {"field": "hi"}}},
    {"mark": {"type": "tick", "color": "black", "thickness": 1.2, "size": 5}, "encoding": {"x": {"field": "c", "type": "nominal"}, "xOffset": {"field": "g", "type": "nominal"}, "y": {"field": "hi", "type": "quantitative"}}},
    {"data": {"name": "I_st"}, "mark": {"type": "text", "fontSize": 11, "baseline": "alphabetic", "dy": 1}, "encoding": {"x": {"field": "c", "type": "nominal"}, "xOffset": {"field": "g", "type": "nominal"}, "y": {"field": "y", "type": "quantitative"}, "text": {"field": "t"}}}
   ]
  },
  {
   "title": {"text": "J", "offset": -24, "dx": -31},
   "width": 169, "height": 143,
   "data": {"name": "J"},
   "layer": [
    {"mark": {"type": "bar", "stroke": "black", "strokeWidth": 1},
     "encoding": {
      "x": {"field": "c", "type": "nominal", "scale": {"domain": ["Wnt3a-","Wnt3a+"], "range": [0,96], "paddingInner": 0.29, "paddingOuter": 0.29, "align": 0.45}, "axis": {"title": null, "labelFontSize": 10.5}},
      "xOffset": {"field": "g", "type": "nominal", "scale": {"domain": ["Ctrl","Pou3f1-KD1","Pou3f1-KD3"], "paddingInner": 0.25}},
      "y": {"field": "v", "type": "quantitative", "scale": {"domain": [0,20], "range": [143,48], "nice": false}, "axis": {"title": "Relative TOP-luc activity", "values": [0,5,10,15,20], "titleFontSize": 10.5}},
      "fill": {"field": "g", "type": "nominal", "scale": {"domain": ["Ctrl","Pou3f1-KD1","Pou3f1-KD3"], "range": ["white","#8a8a8a","black"]}, "legend": {"title": null, "orient": "none", "legendX": 91, "legendY": 21, "symbolType": "M-1.2,-0.7H1.2V0.7H-1.2Z", "symbolSize": 100, "symbolStrokeColor": "black", "symbolStrokeWidth": 1}}
     }},
    {"mark": {"type": "rule", "color": "black", "strokeWidth": 1.2}, "encoding": {"x": {"field": "c", "type": "nominal"}, "xOffset": {"field": "g", "type": "nominal"}, "y": {"field": "v", "type": "quantitative"}, "y2": {"field": "hi"}}},
    {"mark": {"type": "tick", "color": "black", "thickness": 1.2, "size": 5}, "encoding": {"x": {"field": "c", "type": "nominal"}, "xOffset": {"field": "g", "type": "nominal"}, "y": {"field": "hi", "type": "quantitative"}}},
    {"data": {"name": "J_br"}, "mark": {"type": "line", "color": "black", "strokeWidth": 1.2}, "encoding": {"x": {"field": "c", "type": "nominal"}, "xOffset": {"field": "g", "type": "nominal"}, "y": {"field": "y", "type": "quantitative"}, "detail": {"field": "id"}, "order": {"field": "o", "type": "quantitative"}}},
    {"data": {"name": "J_st"}, "mark": {"type": "text", "fontSize": 11, "baseline": "alphabetic", "dy": 2, "dx": -3}, "encoding": {"x": {"field": "c", "type": "nominal"}, "xOffset": {"field": "g", "type": "nominal"}, "y": {"field": "y", "type": "quantitative"}, "text": {"field": "t"}}}
   ]
  },
  {
   "title": {"text": "K", "offset": -22, "dx": -11},
   "width": 189, "height": 143,
   "data": {"name": "K"},
   "layer": [
    {"mark": {"type": "bar", "stroke": "black", "strokeWidth": 1},
     "encoding": {
      "x": {"field": "c", "type": "nominal", "scale": {"domain": ["Wnt3a-","Wnt3a+"], "range": [39,124], "paddingInner": 0.46, "paddingOuter": 0.38, "align": 0.39}, "axis": {"title": null, "labelFontSize": 10}},
      "xOffset": {"field": "g", "type": "nominal", "scale": {"domain": ["Ctrl","Pou3f1"], "paddingInner": 0.2}},
      "y": {"field": "v", "type": "quantitative", "scale": {"domain": [0,15], "range": [143,42], "nice": false}, "axis": {"title": "Relative TOP-luc activity", "offset": -39, "values": [0,5,10,15], "titleFontSize": 10.5}},
      "fill": {"field": "g", "type": "nominal", "scale": {"domain": ["Ctrl","Pou3f1"], "range": ["white","black"]}, "legend": {"title": null, "orient": "none", "legendX": 112, "legendY": 21, "symbolType": "M-1.2,-0.7H1.2V0.7H-1.2Z", "symbolSize": 100, "symbolStrokeColor": "black", "symbolStrokeWidth": 1}}
     }},
    {"mark": {"type": "rule", "color": "black", "strokeWidth": 1.2}, "encoding": {"x": {"field": "c", "type": "nominal"}, "xOffset": {"field": "g", "type": "nominal"}, "y": {"field": "v", "type": "quantitative"}, "y2": {"field": "hi"}}},
    {"mark": {"type": "tick", "color": "black", "thickness": 1.2, "size": 5}, "encoding": {"x": {"field": "c", "type": "nominal"}, "xOffset": {"field": "g", "type": "nominal"}, "y": {"field": "hi", "type": "quantitative"}}},
    {"data": {"name": "K_br"}, "mark": {"type": "line", "color": "black", "strokeWidth": 1.2}, "encoding": {"x": {"field": "c", "type": "nominal"}, "xOffset": {"field": "g", "type": "nominal"}, "y": {"field": "y", "type": "quantitative"}, "detail": {"field": "id"}, "order": {"field": "o", "type": "quantitative"}}},
    {"data": {"name": "K_st"}, "mark": {"type": "text", "fontSize": 11, "baseline": "alphabetic", "dy": 2, "dx": 5.5}, "encoding": {"x": {"field": "c", "type": "nominal"}, "xOffset": {"field": "g", "type": "nominal"}, "y": {"field": "y", "type": "quantitative"}, "text": {"field": "t"}}}
   ]
  },
  {
   "title": {"text": "L", "offset": -22, "dx": -12},
   "width": 134, "height": 143,
   "layer": [
    {"data": {"name": "L"},
     "layer": [
      {"mark": {"type": "bar", "stroke": "black", "strokeWidth": 1},
       "encoding": {
        "x": {"field": "c", "type": "nominal", "scale": {"domain": ["N2B27","CHIR"], "range": [27,150], "paddingInner": 0.267, "paddingOuter": 0.158, "align": 0.47}, "axis": {"title": null, "labels": false}},
        "xOffset": {"field": "d", "type": "nominal", "scale": {"domain": ["1","2","3","4"], "paddingInner": 0.27}},
        "y": {"field": "v", "type": "quantitative", "scale": {"domain": [0,15], "range": [143,42], "nice": false}, "axis": {"title": "Relative TOP-luc activity", "offset": -27, "values": [0,5,10,15], "titleFontSize": 10}},
        "fill": {"field": "c", "type": "nominal", "scale": {"domain": ["N2B27","CHIR"], "range": ["white","black"]}, "legend": {"title": null, "orient": "none", "legendX": 128, "legendY": 23, "symbolType": "M-1.2,-0.7H1.2V0.7H-1.2Z", "symbolSize": 100, "symbolStrokeColor": "black", "symbolStrokeWidth": 1}}
       }},
      {"mark": {"type": "rule", "color": "black", "strokeWidth": 1.2}, "encoding": {"x": {"field": "c", "type": "nominal"}, "xOffset": {"field": "d", "type": "nominal"}, "y": {"field": "v", "type": "quantitative"}, "y2": {"field": "hi"}}},
      {"mark": {"type": "tick", "color": "black", "thickness": 1.2, "size": 5}, "encoding": {"x": {"field": "c", "type": "nominal"}, "xOffset": {"field": "d", "type": "nominal"}, "y": {"field": "hi", "type": "quantitative"}}}
     ]},
    {"layer": [
      {"data": {"name": "L_w"}, "mark": {"type": "area", "color": "black"}, "encoding": {"x": {"field": "p", "type": "quantitative", "scale": {"domain": [0,1], "range": [27,150]}, "axis": null}, "y": {"field": "t", "type": "quantitative"}, "y2": {"field": "b"}, "detail": {"field": "w"}}},
      {"data": {"name": "L_wl"}, "mark": {"type": "text", "fontSize": 10, "align": "right", "baseline": "middle"}, "encoding": {"x": {"field": "p", "type": "quantitative"}, "y": {"field": "t", "type": "quantitative"}, "text": {"field": "s"}}}
    ]}
   ],
   "resolve": {"scale": {"x": "independent"}}
  }
]
}
